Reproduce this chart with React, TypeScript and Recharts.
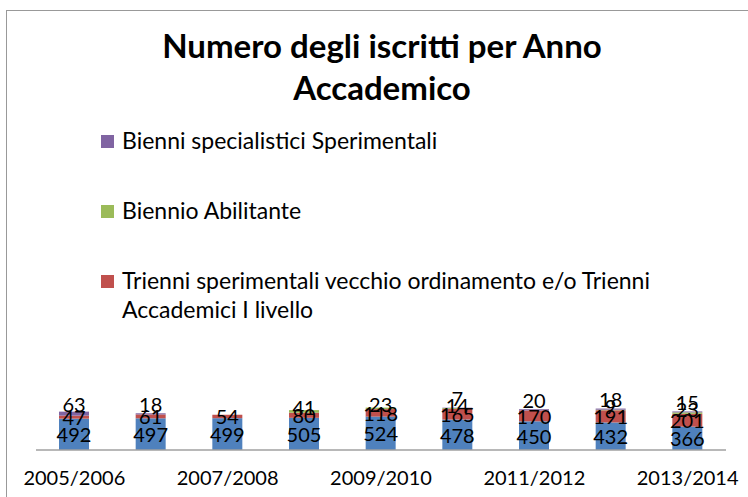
import React from 'react';
import { BarChart, Bar, XAxis, YAxis, LabelList } from 'recharts';

const categories = [
  '2005/2006', '2006/2007', '2007/2008', '2008/2009', '2009/2010',
  '2010/2011', '2011/2012', '2012/2013', '2013/2014',
];
const corsiTradizionali = [492, 497, 499, 505, 524, 478, 450, 432, 366];
const trienni = [47, 61, 54, 80, 118, 165, 170, 191, 201];
const biennioAbilitante = [0, 0, 0, 41, 23, 14, 0, 9, 23];
const bienniSpecialistici = [63, 18, 0, 0, 0, 7, 20, 18, 15];

const legendItems = [
  { label: 'Bienni specialistici Sperimentali', color: '#8064A2' },
  { label: 'Biennio Abilitante', color: '#9BBB59' },
  {
    label: 'Trienni sperimentali vecchio ordinamento e/o Trienni Accademici I livello',
    color: '#C0504D',
  },
];

const FONT = 'Lato, "Open Sans", sans-serif';

const data = categories.map((c, i) => ({
  anno: c,
  tradizionali: corsiTradizionali[i],
  trienni: trienni[i],
  abilitante: biennioAbilitante[i],
  specialistici: bienniSpecialistici[i],
}));

// hide labels of empty segments, small top segments get nudged up a bit
const makeLabel = (dy: number) => (props: any) => {
  const { x, y, width, height, value } = props;
  if (!value) return null;
  return (
    <text
      x={x + width / 2}
      y={y + height / 2 + dy}
      textAnchor="middle"
      dominantBaseline="central"
      fontSize={20}
      fontFamily={FONT}
      fill="#000"
    >
      {value}
    </text>
  );
};

export default function App() {
  return (
    <div
      style={{
        position: 'absolute',
        left: 0,
        top: 0,
        width: 748,
        height: 497,
        background: '#fff',
        overflow: 'hidden',
        fontFamily: FONT,
      }}
    >
      {/* chart border, cut off on right and bottom */}
      <div
        style={{
          position: 'absolute',
          left: 6,
          top: 10,
          width: 760,
          height: 510,
          border: '1.5px solid #999',
          boxSizing: 'border-box',
        }}
      />
      <div
        style={{
          position: 'absolute',
          left: 0,
          top: 24,
          width: 764,
          textAlign: 'center',
          fontWeight: 700,
          fontSize: 33,
          lineHeight: '42px',
          color: '#000',
        }}
      >
        Numero degli iscritti per Anno
        <br />
        Accademico
      </div>
      <div style={{ position: 'absolute', left: 101, top: 126, width: 600 }}>
        {legendItems.map((item, i) => (
          <div
            key={i}
            style={{ position: 'relative', height: i < 2 ? 70 : 60, fontSize: 23, lineHeight: '29px' }}
          >
            <span
              style={{
                position: 'absolute',
                left: 0,
                top: 9,
                width: 13,
                height: 13,
                background: item.color,
              }}
            />
            <div style={{ marginLeft: 21, width: 560, color: '#000' }}>{item.label}</div>
          </div>
        ))}
      </div>
      <div style={{ position: 'absolute', left: 0, top: 0 }}>
        <BarChart
          width={748}
          height={497}
          data={data}
          margin={{ top: 399, right: 22, bottom: 0, left: 36 }}
          barSize={30}
        >
          <XAxis
            dataKey="anno"
            interval={1}
            tickLine={false}
            axisLine={{ stroke: '#a0a0a0', strokeWidth: 1.5 }}
            tick={{ fontSize: 20, fill: '#000', fontFamily: FONT }}
            tickMargin={15}
            height={47}
          />
          <YAxis hide domain={[0, 800]} />
          <Bar dataKey="tradizionali" stackId="a" fill="#4F81BD" isAnimationActive={false}>
            <LabelList dataKey="tradizionali" content={makeLabel(0)} />
          </Bar>
          <Bar dataKey="trienni" stackId="a" fill="#C0504D" isAnimationActive={false}>
            <LabelList dataKey="trienni" content={makeLabel(0)} />
          </Bar>
          <Bar dataKey="abilitante" stackId="a" fill="#9BBB59" isAnimationActive={false}>
            <LabelList dataKey="abilitante" content={makeLabel(-4)} />
          </Bar>
          <Bar dataKey="specialistici" stackId="a" fill="#8064A2" isAnimationActive={false}>
            <LabelList dataKey="specialistici" content={makeLabel(-10)} />
          </Bar>
        </BarChart>
      </div>
    </div>
  );
}
